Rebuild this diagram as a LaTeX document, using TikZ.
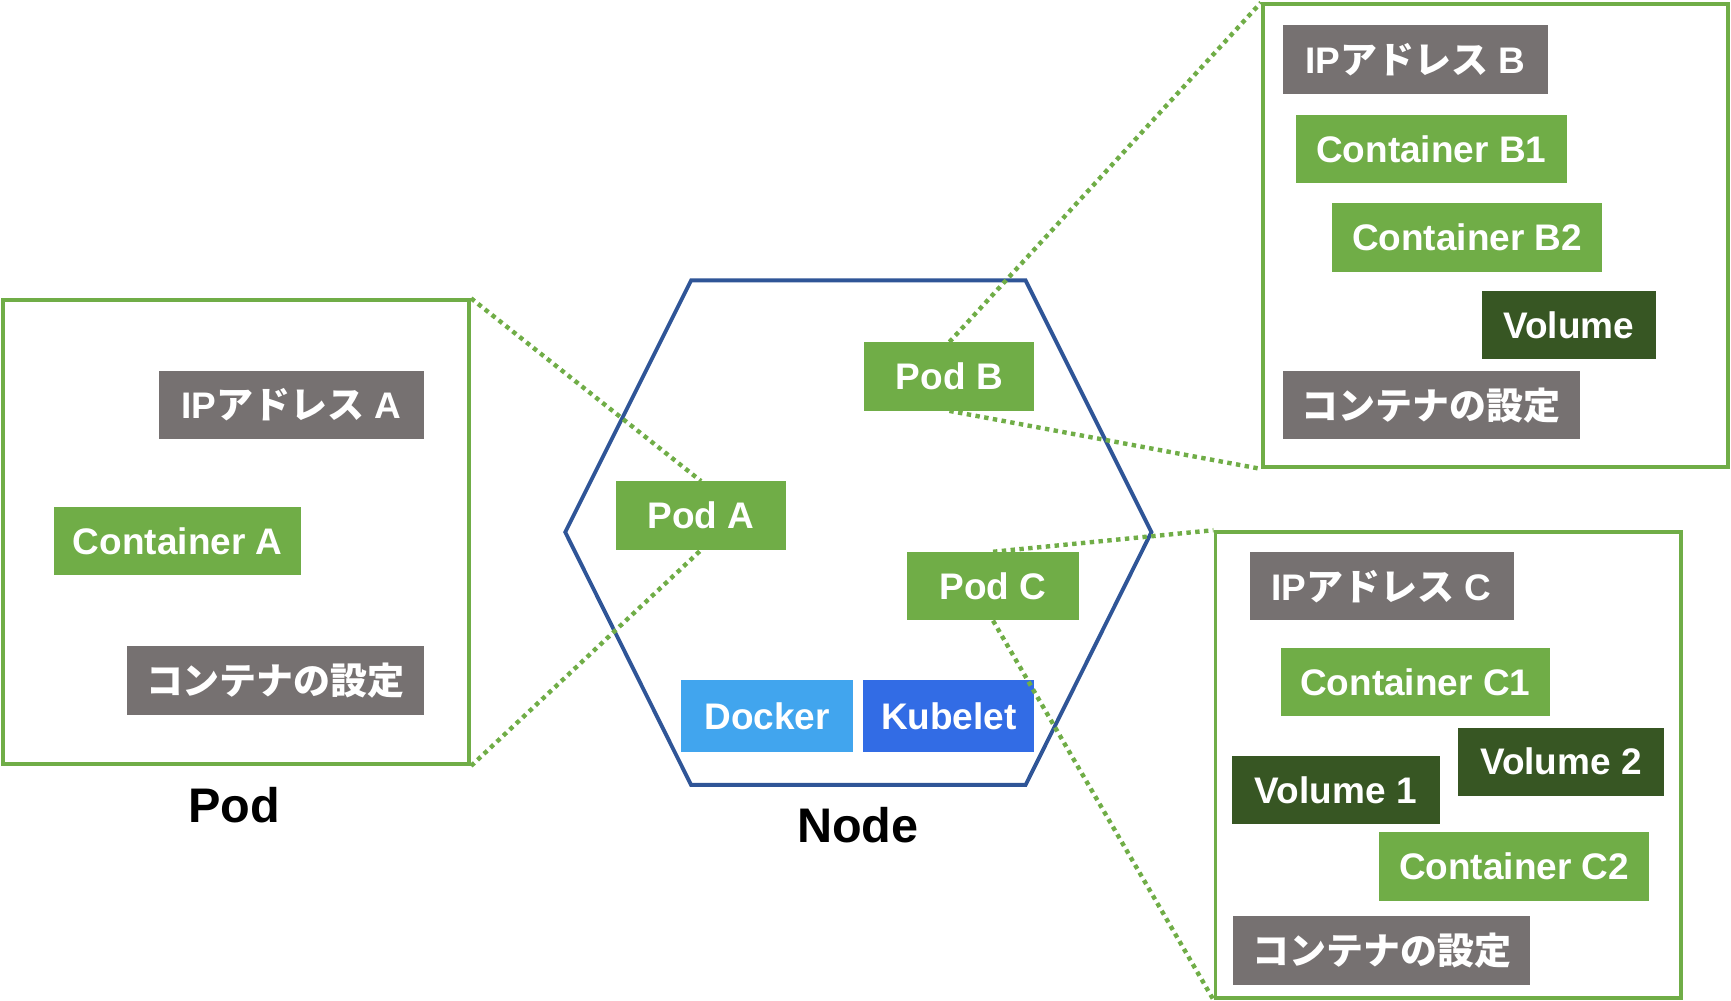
\documentclass[tikz,border=0pt]{standalone}
\usepackage{fontspec}
\setmainfont{Liberation Sans}
\newfontfamily\jp{Noto Sans CJK JP}
\definecolor{gr}{HTML}{70AD47}
\definecolor{dg}{HTML}{375623}
\definecolor{gy}{HTML}{767171}
\definecolor{nb}{HTML}{2F5597}
\definecolor{dk}{HTML}{41A5EE}
\definecolor{kb}{HTML}{326CE5}
\newcommand\bx[7]{\node[#1,minimum width={(#5-#3)*1pt},minimum height={(#6-#4)*1pt}] (#2) at ({(#3+#5)/2},{(#4+#6)/2}) {#7};}
\begin{document}
\begin{tikzpicture}[x=1pt,y=-1pt,
  lab/.style={inner sep=0,text=white,font=\fontsize{33.5}{33.5}\selectfont\bfseries},
  gbox/.style={lab,fill=gr}, dbox/.style={lab,fill=dg}, ybox/.style={lab,fill=gy},
  frame/.style={draw=gr,line width=3.5pt,inner sep=0},
  dot/.style={gr,line width=4pt,dash pattern=on 4pt off 4pt}]
\useasboundingbox (0,0) rectangle (1568,906);
\bx{frame}{FA}{3}{272}{425}{692}{}
\bx{frame}{FB}{1144}{4}{1565}{423}{}
\bx{frame}{FC}{1101}{482}{1523}{904}{}
\coordinate (h1) at (626,254); \coordinate (h2) at (929,254); \coordinate (h3) at (1043,482);
\coordinate (h4) at (929,711); \coordinate (h5) at (626,711); \coordinate (h6) at (512,482);
\draw[nb,line width=3.5pt,line join=miter] (h1)--(h2)--(h3)--(h4)--(h5)--(h6)--cycle;
\bx{gbox}{PB}{783}{310}{937}{372}{Pod B}
\bx{gbox}{PA}{558}{436}{712}{498}{Pod A}
\bx{gbox}{PC}{822}{500}{977}{562}{Pod C}
\bx{lab,fill=dk}{DO}{617}{616}{773}{681}{Docker}
\bx{lab,fill=kb}{KU}{782}{616}{937}{681}{Kubelet}
\draw[dot] (FA.north east) -- (PA.north);
\draw[dot] (FA.south east) -- (PA.south);
\draw[dot] (PB.north) -- (FB.north west);
\draw[dot] (PB.south) -- (FB.south west);
\draw[dot] (PC.north) -- (FC.north west);
\draw[dot] (PC.south) -- (FC.south west);
\bx{gbox}{PB2}{783}{310}{937}{372}{Pod B}
\bx{gbox}{PA2}{558}{436}{712}{498}{Pod A}
\bx{gbox}{PC2}{822}{500}{977}{562}{Pod C}
\bx{ybox}{IA}{144}{336}{384}{398}{IP{\jp アドレス} A}
\bx{gbox}{CA}{49}{459}{273}{521}{Container A}
\bx{ybox}{SA}{115}{585}{384}{648}{\jp コンテナの設定}
\bx{ybox}{IB}{1162}{23}{1402}{85}{IP{\jp アドレス} B}
\bx{gbox}{CB1}{1174}{104}{1419}{166}{Container B1}
\bx{gbox}{CB2}{1207}{184}{1451}{246}{Container B2}
\bx{dbox}{VB}{1342}{264}{1500}{325}{Volume}
\bx{ybox}{SB}{1162}{336}{1431}{398}{\jp コンテナの設定}
\bx{ybox}{IC}{1132}{500}{1371}{562}{IP{\jp アドレス} C}
\bx{gbox}{CC1}{1160}{587}{1404}{649}{Container C1}
\bx{dbox}{VC2}{1321}{659}{1507}{721}{Volume 2}
\bx{dbox}{VC1}{1116}{685}{1304}{746}{Volume 1}
\bx{gbox}{CC2}{1249}{754}{1494}{816}{Container C2}
\bx{ybox}{SC}{1117}{830}{1386}{892}{\jp コンテナの設定}
\node[font=\fontsize{44}{44}\selectfont\bfseries] (LP) at (212,729) {Pod};
\node[font=\fontsize{44}{44}\selectfont\bfseries] (LN) at (777,747) {Node};
\end{tikzpicture}
\end{document}
